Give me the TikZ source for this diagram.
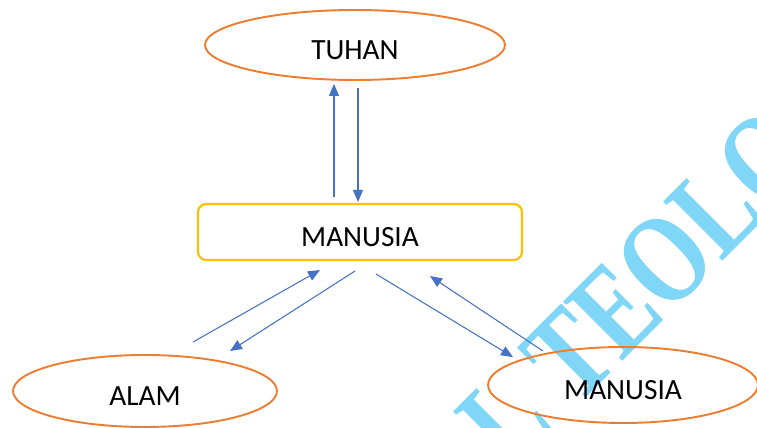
\documentclass[tikz,border=0pt]{standalone}
\usepackage{fontspec}
\setmainfont{Carlito}
\newfontfamily\wmfont{Liberation Serif}
\usepackage{tikz}
\usetikzlibrary{shapes.geometric,arrows.meta}

\definecolor{ellorange}{RGB}{237,125,49}
\definecolor{boxgold}{RGB}{255,192,0}
\definecolor{arrblue}{RGB}{68,114,196}
\definecolor{wmblue}{RGB}{128,214,246}

\tikzset{
  oval/.style={ellipse,draw=ellorange,line width=1.1pt,inner sep=0pt,
    text height=16pt,text depth=0pt},
  mainbox/.style={rectangle,rounded corners=0.16cm,draw=boxgold,line width=1.2pt,
    fill=white,minimum width=6.48cm,minimum height=1.12cm,inner sep=0pt,
    text height=17pt,text depth=0pt},
  arr/.style={draw=arrblue,line width=0.6pt,-{Triangle[length=0.24cm,width=0.2cm]}}
}

\begin{document}
\begin{tikzpicture}[x=0.02cm,y=-0.02cm,font=\fontsize{16.7}{20}\selectfont]
\useasboundingbox (0,0) rectangle (757,428);

% watermark
\begin{scope}
\clip (0,0) rectangle (757,428);
\node (wm) [anchor=base west,rotate=45,text=wmblue,inner sep=0pt,
  font=\wmfont\bfseries\fontsize{56}{60}\selectfont] at (511,473) {\scalebox{1}[1.3]{L TEOLOGI}};
\end{scope}

\node (tuhan) [oval,minimum width=6cm,minimum height=1.4cm] at (355,45) {TUHAN};
\node (man) [mainbox] at (360,232) {MANUSIA};
\node (alam) [oval,minimum width=5.28cm,minimum height=1.44cm] at (145,391) {ALAM};
\node (rman) [oval,minimum width=5.4cm,minimum height=1.52cm] at (623,385) {MANUSIA};

\draw[arr] ([shift={(-26,-6)}]man.north) -- ([shift={(-21,3)}]tuhan.south);
\draw[arr] ([shift={(3,7)}]tuhan.south) -- ([shift={(-2,-1)}]man.north);
\draw[arr] ([shift={(48,-12)}]alam.north) -- ([shift={(-40,9)}]man.south);
\draw[arr] ([shift={(-5,10)}]man.south) -- ([shift={(85,-3)}]alam.north);
\draw[arr] ([shift={(16,13)}]man.south) -- ([shift={(-110,11)}]rman.north);
\draw[arr] ([shift={(-80,5)}]rman.north) -- ([shift={(70,15)}]man.south);
\end{tikzpicture}
\end{document}
